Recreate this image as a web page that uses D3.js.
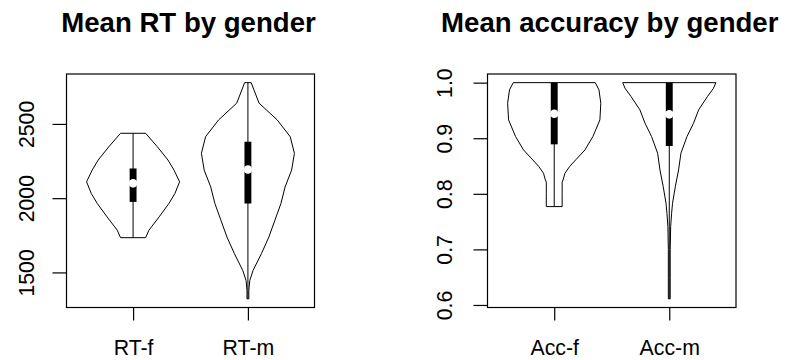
<!DOCTYPE html>
<html>
<head>
<meta charset="utf-8">
<script src="https://cdn.jsdelivr.net/npm/d3@7"></script>
<style>
  html, body { margin: 0; padding: 0; background: #fff; }
  svg { display: block; }
  text { font-family: "Liberation Sans", Arial, sans-serif; fill: #000; }
</style>
</head>
<body>
<svg id="chart" width="791" height="360"></svg>
<script>
// ---------- DATA ----------
const rtCategories = ["RT-f", "RT-m"];
const accCategories = ["Acc-f", "Acc-m"];
const rtTicks = [1500, 2000, 2500];
const accTicks = [0.6, 0.7, 0.8, 0.9, 1.0];

// violin profiles: value levels and relative density (0..1)
const rtfLevels  = [2437, 2347, 2257, 2189, 2110, 2032, 1964, 1874, 1784, 1734];
const rtfDensity = [0.27, 0.52, 0.75, 0.88, 1.00, 0.90, 0.77, 0.56, 0.34, 0.27];
const rtmLevels  = [2778, 2640, 2527, 2414, 2302, 2189, 2076, 1964, 1851, 1738, 1626, 1513, 1446, 1380, 1322];
const rtmDensity = [0.07, 0.24, 0.63, 0.91, 1.00, 0.94, 0.80, 0.71, 0.58, 0.45, 0.29, 0.11, 0.04, 0.02, 0.02];
const accfLevels  = [1.000, 0.987, 0.963, 0.933, 0.903, 0.879, 0.861, 0.849, 0.837, 0.825, 0.821, 0.800, 0.777];
const accfDensity = [0.88, 0.96, 1.00, 0.98, 0.83, 0.66, 0.46, 0.33, 0.23, 0.19, 0.17, 0.17, 0.17];
const accmLevels  = [1.000, 0.990, 0.975, 0.951, 0.927, 0.903, 0.873, 0.843, 0.813, 0.783, 0.765, 0.741, 0.700, 0.650, 0.611];
const accmDensity = [1.00, 0.95, 0.82, 0.63, 0.52, 0.38, 0.25, 0.20, 0.13, 0.07, 0.05, 0.03, 0.02, 0.02, 0.02];

// box summaries
const rtQ1 = [1975, 1964];
const rtMedian = [2100, 2193];
const rtQ3 = [2200, 2380];
const accQ1 = [0.889, 0.886];
const accMedian = [0.944, 0.943];
const accQ3 = [1.000, 1.000];

// ---------- DRAWING ----------
const svg = d3.select("#chart");

const panels = [
  {
    title: "Mean RT by gender", cats: rtCategories, ticks: rtTicks, fmt: d3.format("d"),
    levels: [rtfLevels, rtmLevels], density: [rtfDensity, rtmDensity],
    q1: rtQ1, med: rtMedian, q3: rtQ3,
    left: 66.5, right: 314.5, labelOff: 32.5
  },
  {
    title: "Mean accuracy by gender", cats: accCategories, ticks: accTicks, fmt: d3.format(".1f"),
    levels: [accfLevels, accmLevels], density: [accfDensity, accmDensity],
    q1: accQ1, med: accMedian, q3: accQ3,
    left: 487.5, right: 736, labelOff: 35.8
  }
];

const plotTop = 74, plotBottom = 307.5;

panels.forEach(p => {
  const g = svg.append("g");
  const allVals = p.levels.flat();
  const lo = d3.min(allVals), hi = d3.max(allVals);
  const pad = (hi - lo) * 0.04;
  const y = d3.scaleLinear().domain([lo - pad, hi + pad]).range([plotBottom, plotTop]);
  const n = p.cats.length;
  const x = d3.scaleLinear().domain([0.5 - 0.04 * n, n + 0.5 + 0.04 * n]).range([p.left, p.right]);
  const unit = x(1) - x(0);
  const w = d3.scaleLinear().domain([0, 1]).range([0, 0.405 * unit]);

  // title
  g.append("text")
    .attr("x", (p.left + p.right) / 2 - 2)
    .attr("y", 31.7)
    .attr("text-anchor", "middle")
    .style("font-size", "27.6px")
    .style("font-weight", "bold")
    .text(p.title);

  // violins
  p.cats.forEach((c, i) => {
    const cx = x(i + 1);
    const pts = p.levels[i].map((v, k) => ({ v, d: p.density[i][k] }));
    const area = d3.area()
      .y(d => y(d.v))
      .x0(d => cx - w(d.d))
      .x1(d => cx + w(d.d));
    g.append("path")
      .attr("d", area(pts))
      .attr("fill", "none")
      .attr("stroke", "#000")
      .attr("stroke-width", 1);

    const vmin = d3.min(p.levels[i]), vmax = d3.max(p.levels[i]);
    g.append("line")
      .attr("x1", cx).attr("x2", cx)
      .attr("y1", y(vmin)).attr("y2", y(vmax))
      .attr("stroke", "#000").attr("stroke-width", 1);

    const bw = 0.06 * unit;
    g.append("rect")
      .attr("x", cx - bw / 2)
      .attr("width", bw)
      .attr("y", y(p.q3[i]))
      .attr("height", y(p.q1[i]) - y(p.q3[i]))
      .attr("fill", "#000");

    g.append("circle")
      .attr("cx", cx).attr("cy", y(p.med[i]))
      .attr("r", 4.3)
      .attr("fill", "#fff");
  });

  // box frame
  g.append("rect")
    .attr("x", p.left).attr("y", plotTop)
    .attr("width", p.right - p.left).attr("height", plotBottom - plotTop)
    .attr("fill", "none").attr("stroke", "#000").attr("stroke-width", 1.2);

  // y axis
  const ya = g.append("g").attr("transform", `translate(${p.left},0)`)
    .call(d3.axisLeft(y).tickValues(p.ticks).tickSize(14).tickFormat(p.fmt));
  ya.select(".domain").remove();
  ya.selectAll(".tick line").attr("stroke", "#000").attr("stroke-width", 1.2);
  ya.selectAll(".tick text")
    .attr("x", null).attr("dy", null)
    .attr("transform", `translate(${-p.labelOff},0) rotate(-90)`)
    .attr("text-anchor", "middle")
    .style("font-size", "21.3px")
    .style("font-family", "'Liberation Sans', Arial, sans-serif")
    .attr("fill", "#000");

  // x axis
  const xa = g.append("g").attr("transform", `translate(0,${plotBottom})`)
    .call(d3.axisBottom(x).tickValues(d3.range(1, n + 1)).tickSize(13).tickFormat(d => p.cats[d - 1]));
  xa.select(".domain").remove();
  xa.selectAll(".tick line").attr("stroke", "#000").attr("stroke-width", 1.2);
  xa.selectAll(".tick text")
    .attr("y", 47.5).attr("dy", null)
    .style("font-size", "21.3px")
    .style("font-family", "'Liberation Sans', Arial, sans-serif")
    .attr("fill", "#000");
});
</script>
</body>
</html>
